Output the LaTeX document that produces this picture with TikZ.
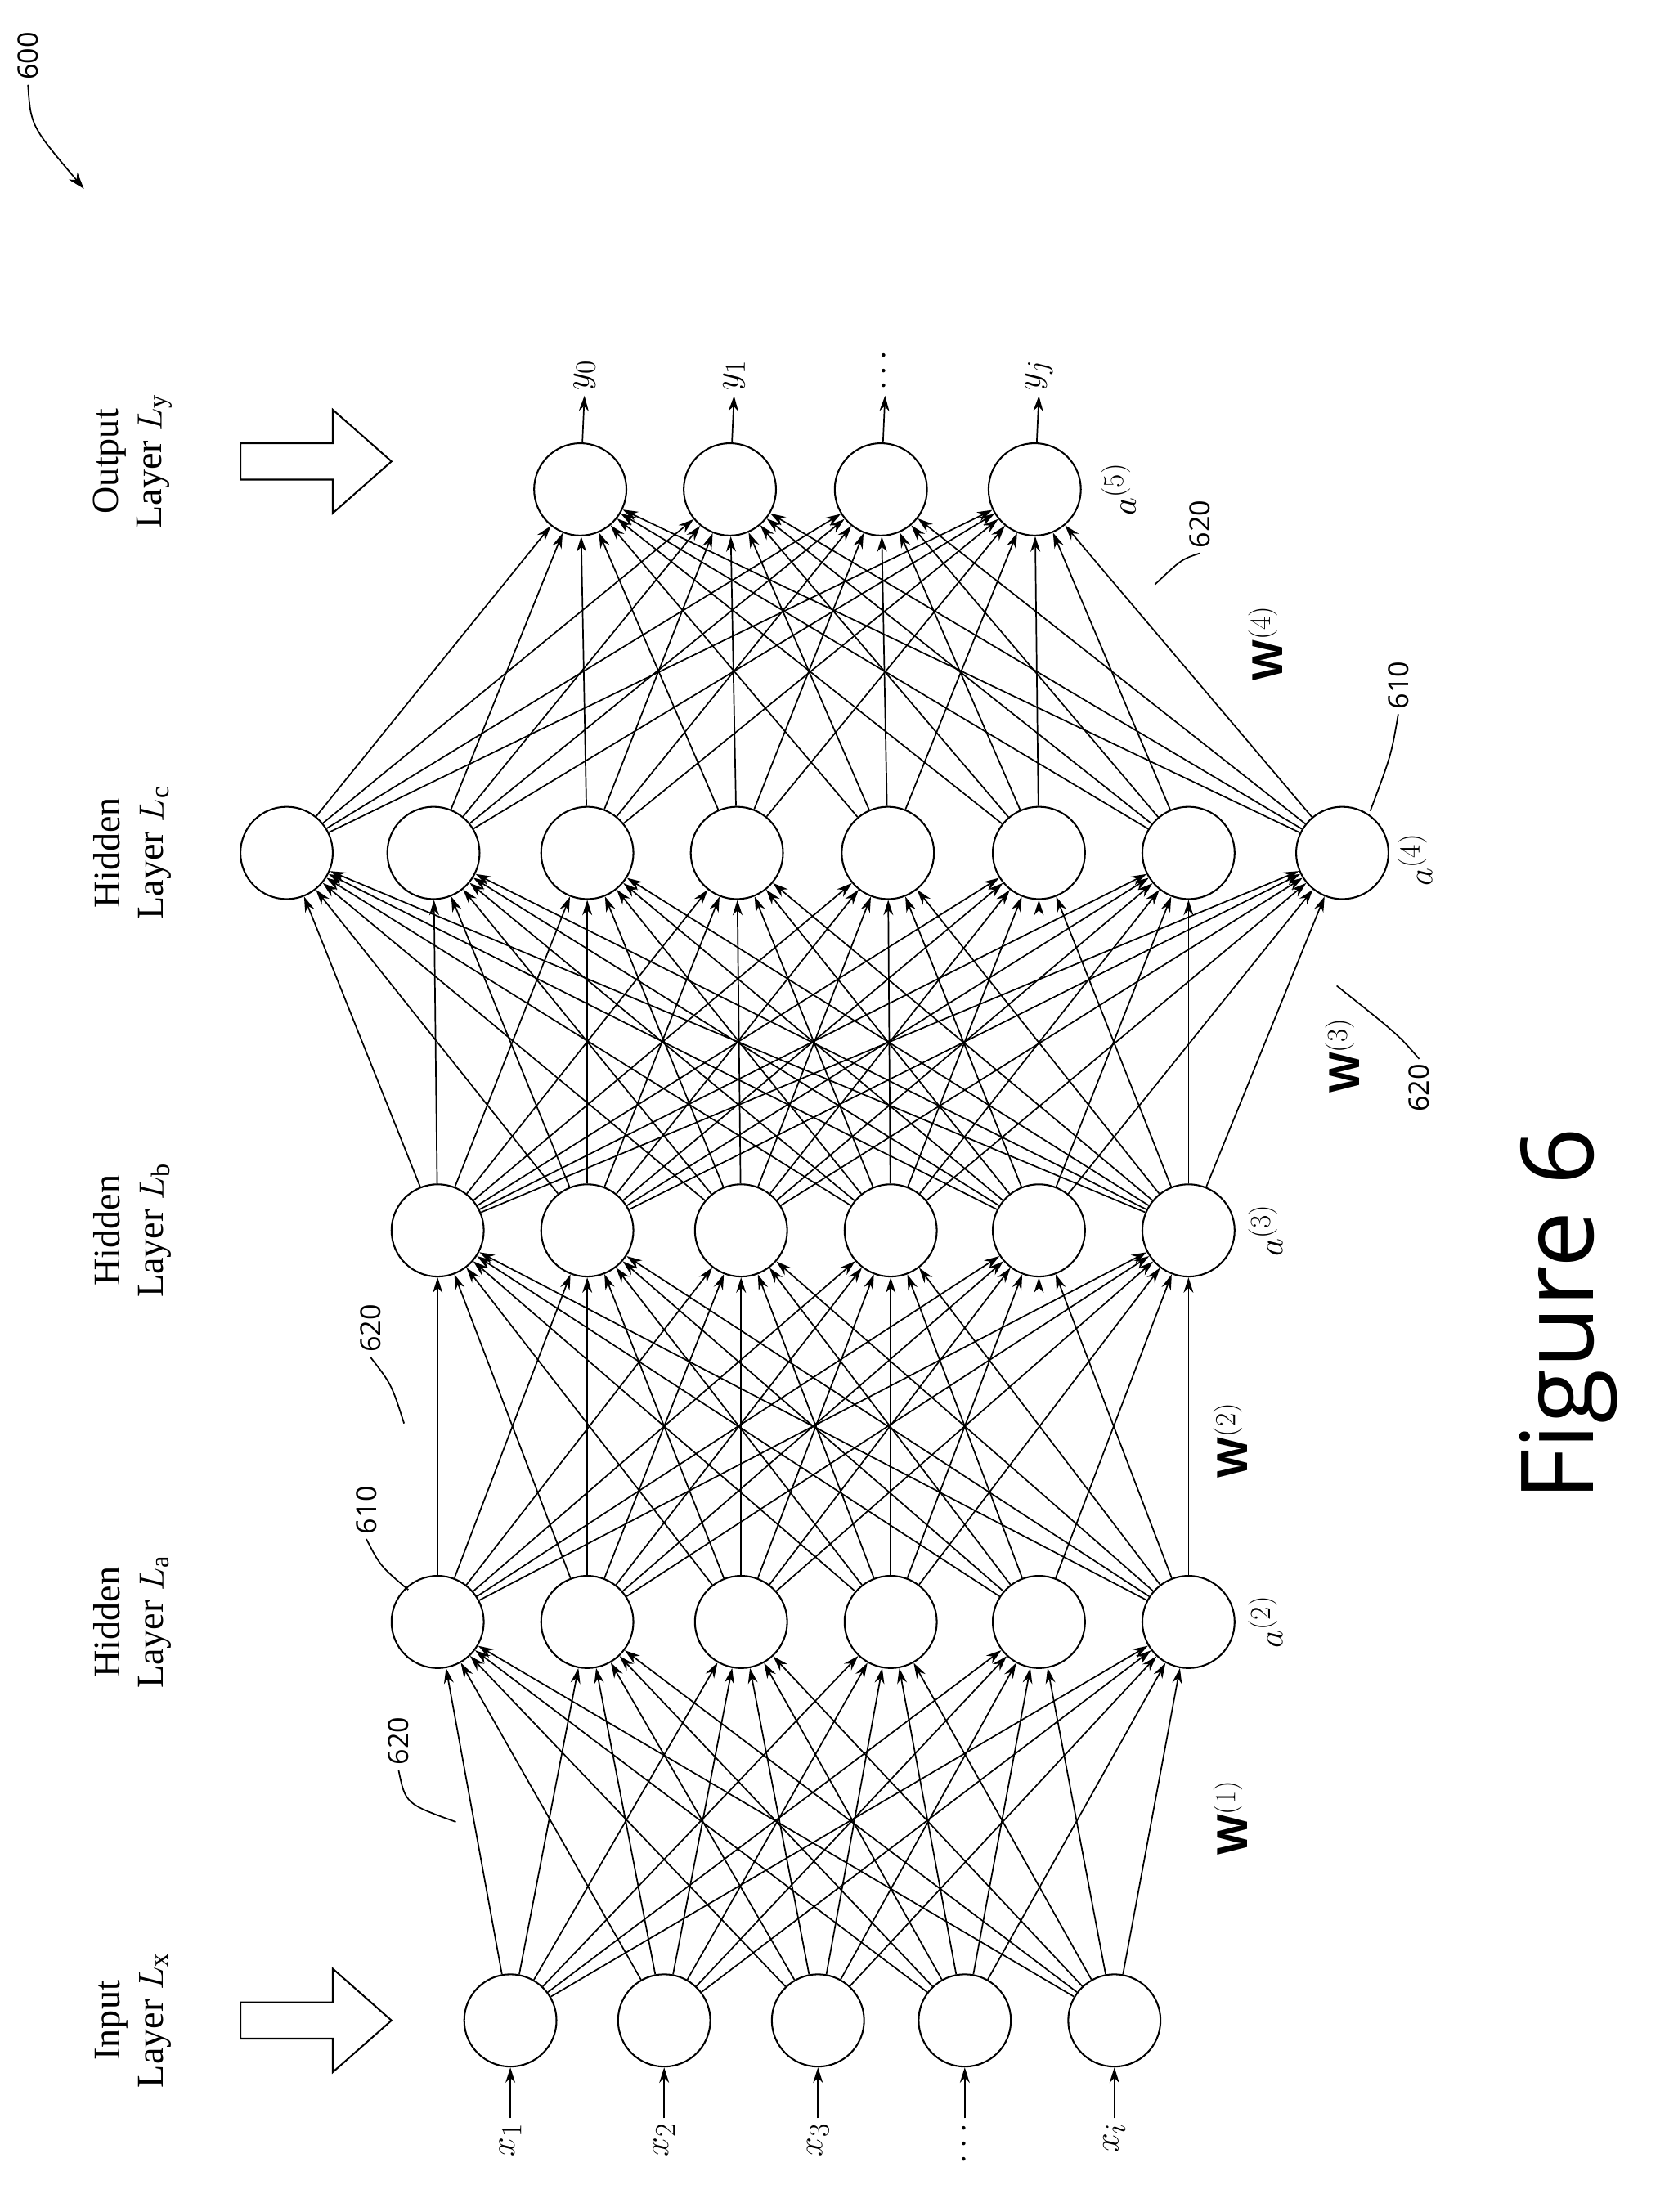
\documentclass[tikz,border=0pt]{standalone}
\usepackage{fontspec}
\setmainfont{Liberation Serif}
\setsansfont{Open Sans}
\usetikzlibrary{arrows.meta}
\begin{document}
\begin{tikzpicture}[x=1pt,y=-1pt,
  neuron/.style={circle,draw,line width=1.2pt,minimum size=66pt,inner sep=0pt},
  conn/.style={-{Stealth[length=11pt,width=7pt]},line width=1pt},
  lay/.style={rotate=90,align=center,font=\fontsize{27}{31}\selectfont},
  num/.style={rotate=90,font=\sffamily\fontsize{20}{22}\selectfont},
  lab/.style={rotate=90,font=\fontsize{32}{34}\selectfont},
  wl/.style={rotate=90,font=\sffamily\bfseries\fontsize{30}{32}\selectfont},
  lead/.style={line width=1pt}]
\useasboundingbox (0,0) rectangle (1200,1582);
% nodes
\foreach \x [count=\i] in {365,475,585,690,797} \node[neuron] (i\i) at (\x,1445) {};
\foreach \x [count=\i] in {313,420,530,637,743,850} \node[neuron] (a\i) at (\x,1160) {};
\foreach \x [count=\i] in {313,420,530,637,743,850} \node[neuron] (b\i) at (\x,880) {};
\foreach \x [count=\i] in {205,310,420,527,635,743,850,960} \node[neuron] (c\i) at (\x,610) {};
\foreach \x [count=\i] in {415,522,630,740} \node[neuron] (o\i) at (\x,350) {};
% connections
\foreach \s in {1,...,5}{\foreach \t in {1,...,6}{\draw[conn] (i\s) -- (a\t);}}
\foreach \s in {1,...,6}{\foreach \t in {1,...,6}{\draw[conn] (a\s) -- (b\t);}}
\foreach \s in {1,...,6}{\foreach \t in {1,...,8}{\draw[conn] (b\s) -- (c\t);}}
\foreach \s in {1,...,8}{\foreach \t in {1,...,4}{\draw[conn] (c\s) -- (o\t);}}
% inputs
\node[lab,anchor=east] (xl1) at (365,1515) {$x_1$};
\node[lab,anchor=east] (xl2) at (475,1515) {$x_2$};
\node[lab,anchor=east] (xl3) at (585,1515) {$x_3$};
\node[lab,anchor=east] (xl4) at (690,1515) {$\cdots$};
\node[lab,anchor=east] (xl5) at (797,1515) {$x_i$};
\foreach \i in {1,...,5}{\draw[conn] (xl\i.east) -- (i\i);}
% outputs
\node[lab,anchor=west] (yl1) at (418,283) {$y_0$};
\node[lab,anchor=west] (yl2) at (525,283) {$y_1$};
\node[lab,anchor=west] (yl3) at (633,283) {$\cdots$};
\node[lab,anchor=west] (yl4) at (743,283) {$y_j$};
\foreach \i in {1,...,4}{\draw[conn] (o\i) -- (yl\i.west);}
% layer labels
\node[lay] (t1) at (95,1445) {Input\\Layer $L_{\mathrm{x}}$};
\node[lay] (t2) at (95,1160) {Hidden\\Layer $L_{\mathrm{a}}$};
\node[lay] (t3) at (95,880) {Hidden\\Layer $L_{\mathrm{b}}$};
\node[lay] (t4) at (95,610) {Hidden\\Layer $L_{\mathrm{c}}$};
\node[lay] (t5) at (95,330) {Output\\Layer $L_{\mathrm{y}}$};
% block arrows
\foreach \c in {1445,330}{
 \draw[line width=1.2pt] (172,\c-13) -- (238,\c-13) -- (238,\c-37) -- (280,\c) -- (238,\c+37) -- (238,\c+13) -- (172,\c+13) -- cycle;}
% activations
\node[lab] (ac2) at (905,1160) {$a^{(2)}$};
\node[lab] (ac3) at (905,880) {$a^{(3)}$};
\node[lab] (ac4) at (1012,615) {$a^{(4)}$};
\node[lab] (ac5) at (800,350) {$a^{(5)}$};
% weights
\node[wl] (w1) at (880,1300) {W$^{(1)}$};
\node[wl] (w2) at (880,1030) {W$^{(2)}$};
\node[wl] (w3) at (960,755) {W$^{(3)}$};
\node[wl] (w4) at (905,460) {W$^{(4)}$};
% callouts
\node[num] (n1) at (285,1245) {620};
\draw[lead] (n1.west) .. controls (290,1290) .. (326,1303);
\node[num] (n2) at (262,1080) {610};
\draw[lead] (n2.west) .. controls (272,1120) .. (292,1137);
\node[num] (n3) at (265,950) {620};
\draw[lead] (n3.west) .. controls (280,990) .. (289,1018);
\node[num] (n4) at (1015,778) {620};
\draw[lead] (n4.east) .. controls (1000,740) .. (956,705);
\node[num] (n5) at (1000,490) {610};
\draw[lead] (n5.west) .. controls (995,540) .. (980,580);
\node[num] (n6) at (858,375) {620};
\draw[lead] (n6.west) .. controls (845,400) .. (826,418);
\node[num] (n7) at (20,40) {600};
\coordinate (p7) at (60,135);
\draw[lead,-{Stealth[length=12pt,width=8pt]}] (n7.west) .. controls (22,90) .. (p7);
% figure title
\node[rotate=90,font=\sffamily\fontsize{72}{80}\selectfont] (fig) at (1122,940) {Figure 6};
\end{tikzpicture}
\end{document}
